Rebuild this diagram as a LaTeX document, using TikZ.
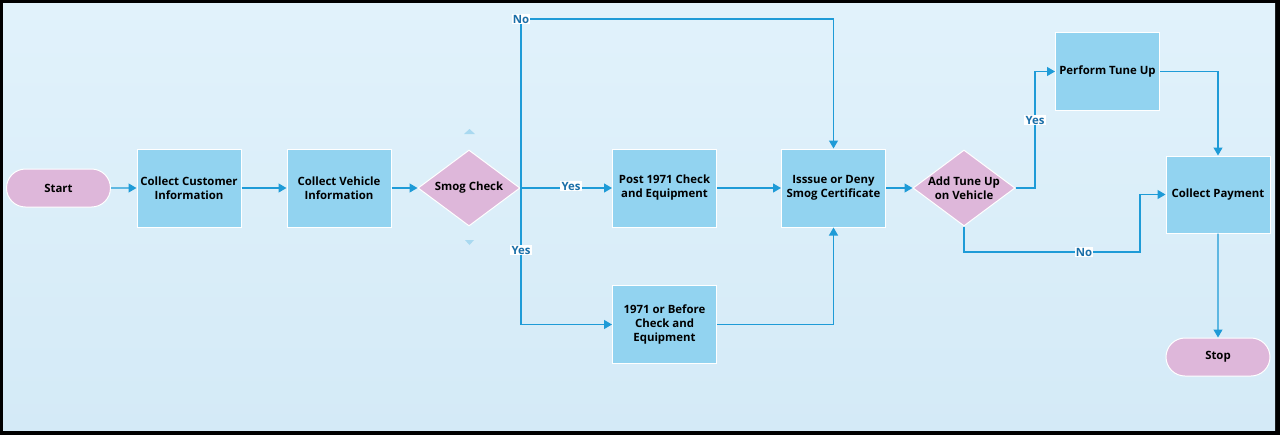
\documentclass[tikz,border=0pt]{standalone}
\usepackage{fontspec}
\setmainfont{Open Sans}
\usetikzlibrary{arrows.meta,shapes.geometric,shapes.misc}
\definecolor{bgA}{HTML}{E1F2FB}
\definecolor{bgB}{HTML}{D4EAF7}
\definecolor{procfill}{HTML}{92D3F0}
\definecolor{termfill}{HTML}{DEB7DA}
\definecolor{linec}{HTML}{1E9BD7}
\definecolor{lblc}{HTML}{1B6FA8}
\definecolor{hintc}{HTML}{A9D9F0}
\newcommand{\dfont}{\fontsize{5.7}{7}\selectfont\bfseries}
\tikzset{
  proc/.style={rectangle, fill=procfill, draw=white, line width=0.5pt, minimum width=52pt, minimum height=39pt, inner sep=0pt, align=center, font=\dfont},
  term/.style={rounded rectangle, fill=termfill, draw=white, line width=0.5pt, minimum width=52pt, minimum height=19pt, inner sep=0pt, font=\dfont},
  decide/.style={diamond, fill=termfill, draw=white, line width=0.5pt, minimum width=51pt, minimum height=38pt, inner sep=0pt},
  dtext/.style={align=center, font=\dfont, inner sep=0pt},
  conn/.style={draw=linec, line width=0.6pt, -{Triangle[length=4pt,width=4.5pt]}},
  lbl/.style={fill=white, text=lblc, inner sep=0.6pt, font=\dfont}
}
\begin{document}
\begin{tikzpicture}[x=0.5pt,y=-0.5pt]
\useasboundingbox (0,0) rectangle (1280,435);
\fill[black] (0,0) rectangle (1280,435);
\shade[top color=bgA, bottom color=bgB] (3,3) rectangle (1275,430);
% hint triangles
\fill[hintc] (464,134) -- (469.5,129) -- (475,134) -- cycle;
\fill[hintc] (465,240) -- (474,240) -- (469.5,245) -- cycle;
% nodes
\node[term] (start) at (58.5,188) {Start};
\node[proc] (cci) at (189,188) {Collect Customer\\Information};
\node[proc] (cvi) at (339,188) {Collect Vehicle\\Information};
\node[decide] (smog) at (469,188) {};
\node[dtext] (smogt) at (smog.center) {Smog Check};
\node[proc] (post) at (664.5,188) {Post 1971 Check\\and Equipment};
\node[proc] (before) at (664.5,324.5) {1971 or Before\\Check and\\Equipment};
\node[proc] (issue) at (833.5,188) {Isssue or Deny\\Smog Certificate};
\node[decide] (tune) at (964,188) {};
\node[dtext] (tunet) at (tune.center) {Add Tune Up\\on Vehicle};
\node[proc] (perform) at (1107.5,71.5) {Perform Tune Up};
\node[proc, minimum height=38.5pt] (pay) at (1218,194.5) {Collect Payment};
\node[term] (stop) at (1218,357) {Stop};
% coordinates
\coordinate (noTop) at (521,19);
\coordinate (yesBot) at (521,324.5);
\coordinate (tuneUp) at (1035,188);
\coordinate (tuneNo) at (964,252);
\coordinate (tuneNo2) at (1140,252);
% connectors
\draw[conn] (start) -- (cci);
\draw[conn] (cci) -- (cvi);
\draw[conn] (cvi) -- (smog);
\draw[conn] (smog.east) -- (post.west);
\draw[conn] (smog.east) -- (smog.east -| noTop) -- (noTop) -| (issue.north);
\draw[conn] (smog.east -| yesBot) -- (yesBot) -- (before.west);
\draw[conn] (post) -- (issue);
\draw[conn] (before.east) -| (issue.south);
\draw[conn] (issue) -- (tune);
\draw[conn] (tune.east) -- (tuneUp) |- (perform.west);
\draw[conn] (perform.east) -| (pay.north);
\draw[conn] (tune.south) -- (tuneNo) -- (tuneNo2) |- (pay.west);
\draw[conn] (pay) -- (stop);
% labels
\node[lbl] (lno1) at (noTop) {No};
\node[lbl] (lyes1) at (571,186) {Yes};
\node[lbl] (lyes2) at (521,250) {Yes};
\node[lbl] (lyes3) at (1035,120) {Yes};
\node[lbl] (lno2) at (1084,252) {No};
\end{tikzpicture}
\end{document}
